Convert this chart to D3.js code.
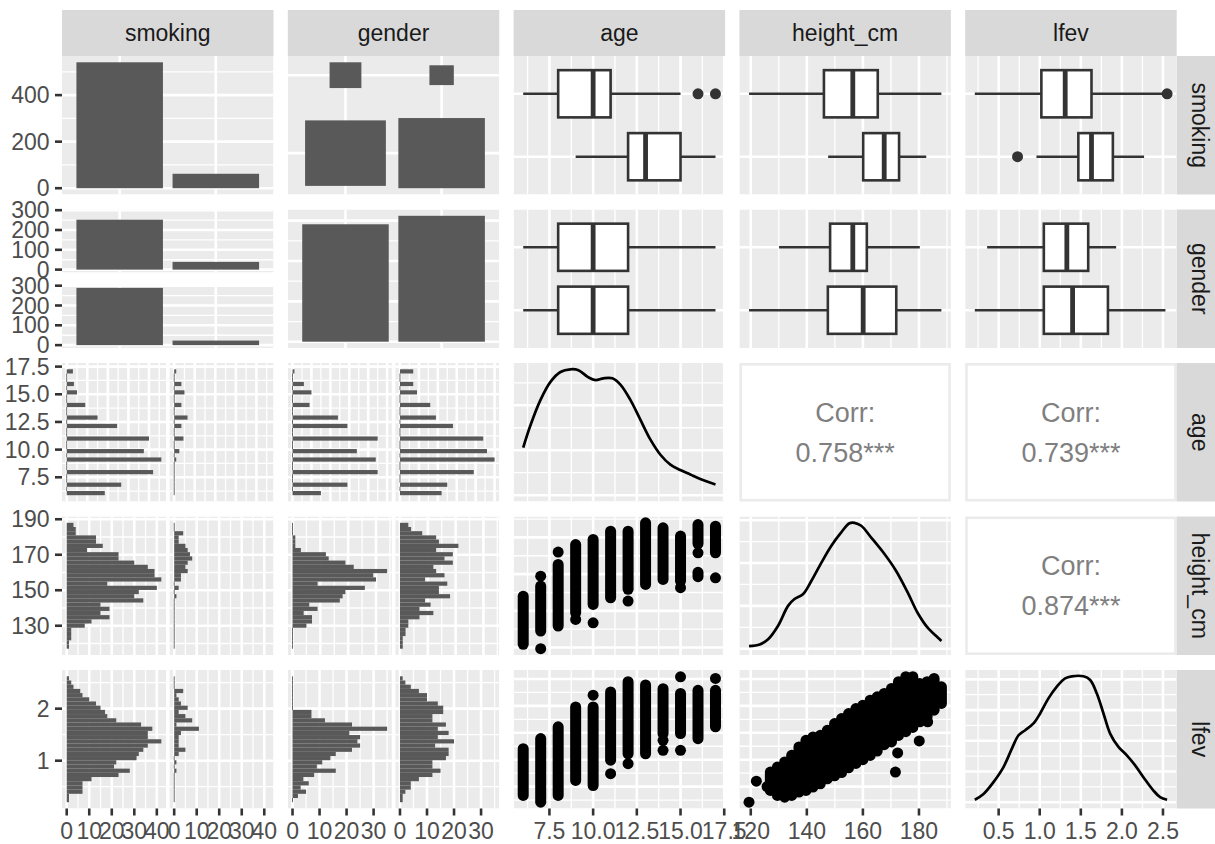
<!DOCTYPE html>
<html><head><meta charset="utf-8">
<script src="https://cdn.jsdelivr.net/npm/d3@7"></script>
<style>body{margin:0;background:#fff}svg{display:block}</style>
</head><body>
<svg id="chart" width="1215" height="844"></svg>
<script>
// ---------------- data ----------------
const variables = ["smoking", "gender", "age", "height_cm", "lfev"];
const smokingLevels = ["no", "yes"];
const genderLevels = ["f", "m"];
const smokingCountsF = [252, 39];   // female: no, yes
const smokingCountsM = [289, 23];   // male: no, yes

const ages = [6, 7, 8, 9, 10, 11, 12, 13, 14, 15, 16, 17];
const ageCountNo  = [37, 53, 84, 92, 75, 80, 49, 30, 18, 10, 7, 6];
const ageCountYes = [0, 0, 0, 2, 5, 9, 7, 13, 7, 10, 7, 2];
const ageCountF   = [15, 29, 45, 44, 34, 45, 29, 24, 9, 10, 6, 1];
const ageCountM   = [22, 25, 39, 50, 46, 44, 28, 19, 16, 9, 7, 7];

const ageRange = [6, 17];
const heightRange = [119.38, 187.96];
const lfevRange = [0.21, 2.55];

// histogram counts (30 bins, lowest bin first)
const heightBinNo  = [1,1,2,2,2,8,11,19,15,19,15,34,30,32,40,18,42,39,39,36,30,23,23,9,16,13,13,4,4,3];
const heightBinYes = [0,0,0,0,0,0,0,0,0,0,0,0,1,0,2,0,3,3,6,5,6,8,7,6,5,2,2,4,0,0];
const heightBinF   = [0,0,0,0,0,5,7,7,4,9,6,17,18,19,26,9,30,29,34,22,19,13,12,3,1,1,1,0,0,0];
const heightBinM   = [1,1,1,2,2,3,3,7,12,7,11,9,18,14,14,17,9,16,13,12,19,16,19,13,21,14,13,8,4,3];
const lfevBinNo    = [1,1,7,7,7,11,23,28,21,22,31,32,34,36,42,36,36,38,33,22,18,17,15,13,10,7,6,3,2,1];
const lfevBinYes   = [0,0,0,0,0,0,0,1,0,1,0,2,5,2,2,2,3,11,1,8,5,2,6,3,2,1,4,0,0,0];
const lfevBinF     = [0,2,5,3,6,4,8,16,9,11,14,16,22,25,24,25,21,35,22,12,7,7,0,0,0,0,0,0,0,0];
const lfevBinM     = [1,1,2,4,4,7,12,15,12,12,17,18,18,13,20,14,18,14,17,12,12,16,16,14,10,10,7,4,2,1];

// boxplot five-number summaries [lower whisker, Q1, median, Q3, upper whisker] and outliers
const ageBoxNo = [6, 8, 10, 11, 15],            ageOutNo = [16, 17];
const ageBoxYes = [9, 12, 13, 15, 17],          ageOutYes = [];
const heightBoxNo = [119.4, 146.1, 156.4, 165.3, 188.0], heightOutNo = [];
const heightBoxYes = [147.6, 160.1, 167.6, 172.9, 182.6], heightOutYes = [];
const lfevBoxNo = [0.21, 1.02, 1.31, 1.63, 2.50], lfevOutNo = [2.55];
const lfevBoxYes = [0.96, 1.47, 1.63, 1.89, 2.27], lfevOutYes = [0.73];
const ageBoxF = [6, 8, 10, 12, 17], ageBoxM = [6, 8, 10, 12, 17];
const heightBoxF = [130.1, 148.3, 156.4, 161.4, 180.3], heightBoxM = [119.4, 147.5, 160.1, 171.9, 188.0];
const lfevBoxF = [0.36, 1.05, 1.33, 1.59, 1.93], lfevBoxM = [0.21, 1.05, 1.40, 1.83, 2.53];

// densities
const ageDensX = [6.0,6.42,6.99,7.56,8.13,8.70,9.16,9.73,10.13,10.59,11.10,11.56,12.13,12.70,13.27,13.85,14.42,14.99,15.56,16.13,17.0];
const ageDensY = [0.053,0.078,0.106,0.126,0.137,0.140,0.139,0.131,0.128,0.130,0.130,0.123,0.106,0.084,0.062,0.045,0.034,0.028,0.023,0.018,0.012];
const heightDensX = [119.4,123.2,126.2,129.7,133.3,135.6,138.6,141.6,145.2,148.7,152.2,155.2,157.0,159.4,162.9,167.7,171.8,176.0,179.5,183.1,186.7,188.0];
const heightDensY = [0.0006,0.0010,0.0022,0.0053,0.0100,0.0116,0.0127,0.0158,0.0201,0.0240,0.0271,0.0293,0.0294,0.0287,0.0260,0.0221,0.0182,0.0131,0.0084,0.0049,0.0026,0.0018];
const lfevDensX = [0.21,0.316,0.437,0.559,0.661,0.742,0.823,0.924,1.005,1.106,1.208,1.309,1.391,1.532,1.614,1.695,1.776,1.857,1.958,2.06,2.161,2.262,2.384,2.465,2.55];
const lfevDensY = [0.016,0.054,0.131,0.229,0.349,0.436,0.469,0.513,0.578,0.676,0.753,0.807,0.82,0.82,0.796,0.708,0.578,0.447,0.360,0.305,0.240,0.163,0.076,0.033,0.016];

// scatter: runs of overlapping points [x, yLow, yHigh] and isolated points [x, y]
const ageHeightRuns = [[6,121.8,148.0],[7,129.0,153.5],[8,131.7,165.3],[9,138.9,176.1],[10,143.5,178.9],[11,147.1,183.4],[12,151.7,183.4],[13,154.4,187.96],[14,157.1,185.2],[15,156.2,180.7],[16,176.5,187.0],[16,158.6,161.0],[17,171.6,186.1]];
const ageHeightPoints = [[7,158.9],[7,119.38],[8,172.0],[9,135.3],[10,133.5],[12,145.3],[15,152.6],[16,171.6],[17,158.0]];
const ageLfevRuns = [[6,0.335,1.205],[7,0.21,1.392],[8,0.335,1.61],[9,0.615,1.98],[10,0.52,1.98],[11,0.99,2.26],[12,1.11,2.45],[13,1.11,2.39],[14,1.485,2.32],[15,1.485,2.23],[16,1.39,2.29],[17,1.61,2.29]];
const ageLfevPoints = [[10,2.2],[11,0.74],[12,0.925],[14,1.36],[14,1.175],[15,2.54],[15,1.175],[17,2.51]];
const heightLfevRuns = [[127.0,0.429,0.770],[129.5,0.335,0.864],[132.1,0.304,0.957],[134.6,0.335,1.081],[137.2,0.398,1.237],[139.7,0.429,1.361],[142.2,0.491,1.423],[144.8,0.553,1.454],[147.3,0.646,1.547],[149.9,0.700,1.672],[152.4,0.760,1.765],[154.9,0.850,1.858],[157.5,0.930,1.951],[160.0,1.000,2.013],[162.6,1.080,2.107],[165.1,1.160,2.169],[167.6,1.280,2.231],[170.2,1.330,2.324],[172.7,1.450,2.449],[175.3,1.520,2.542],[177.8,1.600,2.542],[180.3,1.703,2.417],[182.9,1.796,2.449],[185.4,1.920,2.510],[188.0,2.045,2.355]];
const heightLfevPoints = [[119.38,0.21],[122.0,0.60],[125.8,0.50],[171.6,0.77],[172.4,1.125],[180.1,1.349],[183.1,1.703]];

// correlations
const corrAgeHeight = 0.758, corrAgeLfev = 0.739, corrHeightLfev = 0.874;

// tick labels
const smokingCountTicks = [0, 200, 400];
const genderFacetCountTicks = [0, 100, 200, 300];
const genderCountTicks = [0, 100, 200, 300];
const ageTicks = [7.5, 10, 12.5, 15, 17.5];
const heightTicksRow = [130, 150, 170, 190];
const heightTicksCol = [120, 140, 160, 180];
const lfevTicksRow = [1, 2];
const lfevTicksCol = [0.5, 1.0, 1.5, 2.0, 2.5];
const ageDensTicks = [0, 0.05, 0.10];
const heightDensTicks = [0, 0.01, 0.02, 0.03];
const lfevDensTicks = [0, 0.2, 0.4, 0.6, 0.8];

// ---------------- layout / style ----------------
const FONT = "'Liberation Sans', Arial, Helvetica, sans-serif";
const FS = 23;
const L = 62, T = 56, PW = 211.5, PH = 138.5, SX = 225.8, SY = 153.5;
const STRIP_TOP = 10, STRIP_W = 46;
const BG = "#EBEBEB", BAR = "#595959", DARK = "#333333";
const LWMAJ = 2.6, LWMIN = 1.3, LWBOX = 2.6, PR = 5.5;
const HGAP = 3.4, VGAP = 12.5;
const px = j => L + j * SX, py = i => T + i * SY;

const svg = d3.select("#chart");
const defs = svg.append("defs");
const gPanels = svg.append("g");
const gAxes = svg.append("g");
let cid = 0;

function expand(d, m = 0.05) { const r = d[1] - d[0]; return [d[0] - m * r, d[1] + m * r]; }
function minorsOf(maj, dom) {
  if (maj.length < 2) return [];
  const st = maj[1] - maj[0];
  const b = maj.slice();
  if (dom[0] < b[0]) b.unshift(b[0] - st);
  if (dom[1] > b[b.length - 1]) b.push(b[b.length - 1] + st);
  const out = [];
  for (let i = 0; i < b.length - 1; i++) out.push((b[i] + b[i + 1]) / 2);
  return out.filter(v => v >= dom[0] && v <= dom[1]);
}
function inDom(arr, dom) { return arr.filter(v => v >= dom[0] - 1e-9 && v <= dom[1] + 1e-9); }

function makePanel(x, y, w, h, fill) {
  const id = "clip" + (cid++);
  defs.append("clipPath").attr("id", id).append("rect").attr("x", x).attr("y", y).attr("width", w).attr("height", h);
  const g = gPanels.append("g").attr("clip-path", `url(#${id})`);
  g.append("rect").attr("x", x).attr("y", y).attr("width", w).attr("height", h).attr("fill", fill || BG);
  return g;
}
function drawGrid(g, box, xs, ys, xMaj, yMaj, xMinor, yMinor) {
  const ln = (x1, y1, x2, y2, lw) => g.append("line").attr("x1", x1).attr("y1", y1).attr("x2", x2).attr("y2", y2)
    .attr("stroke", "#FFFFFF").attr("stroke-width", lw);
  (yMinor || []).forEach(v => ln(box.x, ys(v), box.x + box.w, ys(v), LWMIN));
  (xMinor || []).forEach(v => ln(xs(v), box.y, xs(v), box.y + box.h, LWMIN));
  (yMaj || []).forEach(v => ln(box.x, ys(v), box.x + box.w, ys(v), LWMAJ));
  (xMaj || []).forEach(v => ln(xs(v), box.y, xs(v), box.y + box.h, LWMAJ));
}
function contGrid(g, box, xs, ys, xMaj, yMaj, opts = {}) {
  const xd = xs.domain(), yd = ys.domain();
  const xm = xMaj ? inDom(xMaj, xd) : null, ym = yMaj ? inDom(yMaj, yd) : null;
  drawGrid(g, box, xs, ys, xm, ym,
    opts.noXMinor || !xMaj ? [] : minorsOf(xMaj, xd),
    opts.noYMinor || !yMaj ? [] : minorsOf(yMaj, yd));
}
function discrete(n, range) { return d3.scaleLinear().domain([0.4, n + 0.6]).range(range); }

function histBreaks(range, bins = 30) {
  const w = (range[1] - range[0]) / (bins - 1);
  const boundary = w / 2;
  const shift = Math.floor((range[0] - boundary) / w);
  const origin = boundary + shift * w;
  const maxX = range[1] + (1 - 1e-8) * w;
  const n = Math.floor((maxX - origin) / w + 1e-9);
  return d3.range(n + 1).map(k => origin + k * w);
}
function binValues(values, counts, breaks) {
  const nb = breaks.length - 1, w = breaks[1] - breaks[0];
  const out = new Array(nb).fill(0);
  values.forEach((v, i) => { const k = Math.min(nb - 1, Math.max(0, Math.floor((v - breaks[0]) / w))); out[k] += counts[i]; });
  return out;
}

const axisInfo = { left: [], bottom: [] };

// histogram facet panel (horizontal bars, facets side by side)
function histPanel(col, row, breaks, facetCounts, yMaj) {
  const x0 = px(col), y0 = py(row);
  const fw = (PW - HGAP) / 2;
  const maxC = d3.max(facetCounts, c => d3.max(c));
  const ys = d3.scaleLinear().domain(expand([breaks[0], breaks[breaks.length - 1]])).range([y0 + PH, y0]);
  const facets = [];
  facetCounts.forEach((counts, fi) => {
    const fx = x0 + fi * (fw + HGAP);
    const xs = d3.scaleLinear().domain(expand([0, maxC])).range([fx, fx + fw]);
    const xMaj = d3.ticks(0, maxC * 1.05, 5);
    const g = makePanel(fx, y0, fw, PH);
    contGrid(g, { x: fx, y: y0, w: fw, h: PH }, xs, ys, xMaj, yMaj);
    counts.forEach((c, k) => {
      const yt = ys(breaks[k + 1]), yb = ys(breaks[k]);
      const wpx = c === 0 ? 0.9 : xs(c) - xs(0);
      g.append("rect").attr("x", xs(0) - (c === 0 ? 0.45 : 0)).attr("y", yt).attr("width", wpx).attr("height", yb - yt).attr("fill", BAR);
    });
    facets.push({ xs, ticks: inDom(xMaj, xs.domain()) });
  });
  return { ys, facets };
}

function boxPanel(col, row, varRange, groups, xMaj) {
  const x0 = px(col), y0 = py(row);
  const xs = d3.scaleLinear().domain(expand(varRange)).range([x0, x0 + PW]);
  const ys = discrete(2, [y0 + PH, y0]);
  const g = makePanel(x0, y0, PW, PH);
  contGrid(g, { x: x0, y: y0, w: PW, h: PH }, xs, ys, xMaj, null);
  drawGrid(g, { x: x0, y: y0, w: PW, h: PH }, xs, ys, [], [1, 2], [], []);
  groups.forEach(gr => {
    const f = gr.five, yc = ys(gr.pos), yt = ys(gr.pos + 0.375), yb = ys(gr.pos - 0.375);
    const seg = (a, b) => g.append("line").attr("x1", xs(a)).attr("x2", xs(b)).attr("y1", yc).attr("y2", yc)
      .attr("stroke", DARK).attr("stroke-width", LWBOX);
    seg(f[0], f[1]); seg(f[3], f[4]);
    g.append("rect").attr("x", xs(f[1])).attr("y", yt).attr("width", xs(f[3]) - xs(f[1])).attr("height", yb - yt)
      .attr("fill", "#FFFFFF").attr("stroke", DARK).attr("stroke-width", LWBOX);
    g.append("line").attr("x1", xs(f[2])).attr("x2", xs(f[2])).attr("y1", yt).attr("y2", yb)
      .attr("stroke", DARK).attr("stroke-width", 4.8);
    gr.out.forEach(o => g.append("circle").attr("cx", xs(o)).attr("cy", yc).attr("r", PR).attr("fill", DARK));
  });
  return xs;
}

function densityPanel(col, row, varRange, dx, dy, xMaj, yMaj) {
  const x0 = px(col), y0 = py(row);
  const xs = d3.scaleLinear().domain(expand(varRange)).range([x0, x0 + PW]);
  const ys = d3.scaleLinear().domain(expand([0, d3.max(dy)])).range([y0 + PH, y0]);
  const g = makePanel(x0, y0, PW, PH);
  contGrid(g, { x: x0, y: y0, w: PW, h: PH }, xs, ys, xMaj, yMaj);
  const line = d3.line().x((d, i) => xs(dx[i])).y(d => ys(d)).curve(d3.curveCatmullRom.alpha(0.5));
  g.append("path").attr("d", line(dy)).attr("fill", "none").attr("stroke", "#000").attr("stroke-width", 2.7);
  return xs;
}

function scatterPanel(col, row, xRange, yRange, runs, pts, xMaj, yMaj) {
  const x0 = px(col), y0 = py(row);
  const xs = d3.scaleLinear().domain(expand(xRange)).range([x0, x0 + PW]);
  const ys = d3.scaleLinear().domain(expand(yRange)).range([y0 + PH, y0]);
  const g = makePanel(x0, y0, PW, PH);
  contGrid(g, { x: x0, y: y0, w: PW, h: PH }, xs, ys, xMaj, yMaj);
  runs.forEach(r => g.append("line").attr("x1", xs(r[0])).attr("x2", xs(r[0])).attr("y1", ys(r[1])).attr("y2", ys(r[2]))
    .attr("stroke", "#000").attr("stroke-width", PR * 2).attr("stroke-linecap", "round"));
  pts.forEach(p => g.append("circle").attr("cx", xs(p[0])).attr("cy", ys(p[1])).attr("r", PR).attr("fill", "#000"));
  return xs;
}

function corrPanel(col, row, r) {
  const x0 = px(col), y0 = py(row);
  const g = gPanels.append("g");
  g.append("rect").attr("x", x0 + 1.3).attr("y", y0 + 1.3).attr("width", PW - 2.6).attr("height", PH - 2.6)
    .attr("fill", "#FFFFFF").attr("stroke", BG).attr("stroke-width", 2.6);
  const cx = x0 + PW / 2, cy = y0 + PH / 2;
  const t = (s, y) => g.append("text").attr("x", cx).attr("y", y).attr("dy", "0.35em").attr("text-anchor", "middle")
    .attr("font-family", FONT).attr("font-size", 27).attr("fill", "#7F7F7F").text(s);
  t("Corr:", cy - 20);
  t(d3.format(".3f")(r) + "***", cy + 20);
}

// ---------------- panels ----------------
const smokingTotals = [smokingCountsF[0] + smokingCountsM[0], smokingCountsF[1] + smokingCountsM[1]];
const genderTotals = [d3.sum(smokingCountsF), d3.sum(smokingCountsM)];

// (0,0) smoking bars
{
  const x0 = px(0), y0 = py(0);
  const xs = discrete(2, [x0, x0 + PW]);
  const ys = d3.scaleLinear().domain(expand([0, d3.max(smokingTotals)])).range([y0 + PH, y0]);
  const g = makePanel(x0, y0, PW, PH);
  drawGrid(g, { x: x0, y: y0, w: PW, h: PH }, xs, ys, [1, 2], inDom(smokingCountTicks, ys.domain()), [], minorsOf(smokingCountTicks, ys.domain()));
  smokingTotals.forEach((c, i) => g.append("rect").attr("x", xs(i + 1 - 0.45)).attr("width", xs(1.9) - xs(1)).attr("y", ys(c)).attr("height", ys(0) - ys(c)).attr("fill", BAR));
  axisInfo.left.push({ row: 0, ys, ticks: smokingCountTicks, fmt: d3.format("d") });
}
// (0,1) count rectangles gender x smoking
{
  const x0 = px(1), y0 = py(0);
  const xs = discrete(2, [x0, x0 + PW]);
  const maxC = d3.max([...smokingCountsF, ...smokingCountsM]);
  const cells = [];
  [smokingCountsF, smokingCountsM].forEach((arr, gi) => arr.forEach((c, si) => cells.push({ gx: gi + 1, sy: si + 1, s: 0.9 * Math.sqrt(c / maxC) })));
  const ext = [d3.min(cells, c => c.sy - c.s / 2), d3.max(cells, c => c.sy + c.s / 2)];
  const ys = d3.scaleLinear().domain(expand(ext)).range([y0 + PH, y0]);
  const g = makePanel(x0, y0, PW, PH);
  drawGrid(g, { x: x0, y: y0, w: PW, h: PH }, xs, ys, [1, 2], [1, 2], [], []);
  cells.forEach(c => g.append("rect").attr("x", xs(c.gx - c.s / 2)).attr("width", xs(c.gx + c.s / 2) - xs(c.gx - c.s / 2))
    .attr("y", ys(c.sy + c.s / 2)).attr("height", ys(c.sy - c.s / 2) - ys(c.sy + c.s / 2)).attr("fill", BAR));
}
// row 0 boxplots by smoking (no on top)
boxPanel(2, 0, ageRange, [{ pos: 2, five: ageBoxNo, out: ageOutNo }, { pos: 1, five: ageBoxYes, out: ageOutYes }], ageTicks);
boxPanel(3, 0, heightRange, [{ pos: 2, five: heightBoxNo, out: heightOutNo }, { pos: 1, five: heightBoxYes, out: heightOutYes }], heightTicksCol);
boxPanel(4, 0, lfevRange, [{ pos: 2, five: lfevBoxNo, out: lfevOutNo }, { pos: 1, five: lfevBoxYes, out: lfevOutYes }], lfevTicksCol);

// (1,0) smoking bars faceted by gender (stacked)
{
  const x0 = px(0), y0 = py(1);
  const fh = (PH - VGAP) / 2;
  const maxC = d3.max([...smokingCountsF, ...smokingCountsM]);
  [smokingCountsF, smokingCountsM].forEach((arr, fi) => {
    const fy = y0 + fi * (fh + VGAP);
    const xs = discrete(2, [x0, x0 + PW]);
    const ys = d3.scaleLinear().domain(expand([0, maxC])).range([fy + fh, fy]);
    const g = makePanel(x0, fy, PW, fh);
    drawGrid(g, { x: x0, y: fy, w: PW, h: fh }, xs, ys, [1, 2], inDom(genderFacetCountTicks, ys.domain()), [], minorsOf(genderFacetCountTicks, ys.domain()));
    arr.forEach((c, i) => g.append("rect").attr("x", xs(i + 1 - 0.45)).attr("width", xs(1.9) - xs(1)).attr("y", ys(c)).attr("height", ys(0) - ys(c)).attr("fill", BAR));
    axisInfo.left.push({ row: 1, ys, ticks: genderFacetCountTicks, fmt: d3.format("d") });
  });
}
// (1,1) gender bars
{
  const x0 = px(1), y0 = py(1);
  const xs = discrete(2, [x0, x0 + PW]);
  const ys = d3.scaleLinear().domain(expand([0, d3.max(genderTotals)])).range([y0 + PH, y0]);
  const g = makePanel(x0, y0, PW, PH);
  drawGrid(g, { x: x0, y: y0, w: PW, h: PH }, xs, ys, [1, 2], inDom(genderCountTicks, ys.domain()), [], minorsOf(genderCountTicks, ys.domain()));
  genderTotals.forEach((c, i) => g.append("rect").attr("x", xs(i + 1 - 0.45)).attr("width", xs(1.9) - xs(1)).attr("y", ys(c)).attr("height", ys(0) - ys(c)).attr("fill", BAR));
}
// row 1 boxplots by gender (f on top)
boxPanel(2, 1, ageRange, [{ pos: 2, five: ageBoxF, out: [] }, { pos: 1, five: ageBoxM, out: [] }], ageTicks);
boxPanel(3, 1, heightRange, [{ pos: 2, five: heightBoxF, out: [] }, { pos: 1, five: heightBoxM, out: [] }], heightTicksCol);
boxPanel(4, 1, lfevRange, [{ pos: 2, five: lfevBoxF, out: [] }, { pos: 1, five: lfevBoxM, out: [] }], lfevTicksCol);

// row 2: age
const ageBreaks = histBreaks(ageRange);
const hAgeS = histPanel(0, 2, ageBreaks, [binValues(ages, ageCountNo, ageBreaks), binValues(ages, ageCountYes, ageBreaks)], ageTicks);
histPanel(1, 2, ageBreaks, [binValues(ages, ageCountF, ageBreaks), binValues(ages, ageCountM, ageBreaks)], ageTicks);
axisInfo.left.push({ row: 2, ys: hAgeS.ys, ticks: ageTicks, fmt: d3.format(".1f") });
densityPanel(2, 2, ageRange, ageDensX, ageDensY, ageTicks, ageDensTicks);
corrPanel(3, 2, corrAgeHeight);
corrPanel(4, 2, corrAgeLfev);

// row 3: height
const heightBreaks = histBreaks(heightRange);
const hHS = histPanel(0, 3, heightBreaks, [heightBinNo, heightBinYes], heightTicksRow);
histPanel(1, 3, heightBreaks, [heightBinF, heightBinM], heightTicksRow);
axisInfo.left.push({ row: 3, ys: hHS.ys, ticks: heightTicksRow, fmt: d3.format("d") });
scatterPanel(2, 3, ageRange, heightRange, ageHeightRuns, ageHeightPoints, ageTicks, heightTicksCol);
densityPanel(3, 3, heightRange, heightDensX, heightDensY, heightTicksCol, heightDensTicks);
corrPanel(4, 3, corrHeightLfev);

// row 4: lfev
const lfevBreaks = histBreaks(lfevRange);
const hLS = histPanel(0, 4, lfevBreaks, [lfevBinNo, lfevBinYes], lfevTicksRow);
const hLG = histPanel(1, 4, lfevBreaks, [lfevBinF, lfevBinM], lfevTicksRow);
axisInfo.left.push({ row: 4, ys: hLS.ys, ticks: lfevTicksRow, fmt: d3.format("d") });
const xsAge = scatterPanel(2, 4, ageRange, lfevRange, ageLfevRuns, ageLfevPoints, ageTicks, lfevTicksCol);
const xsHeight = scatterPanel(3, 4, heightRange, lfevRange, heightLfevRuns, heightLfevPoints, heightTicksCol, lfevTicksCol);
const xsLfev = densityPanel(4, 4, lfevRange, lfevDensX, lfevDensY, lfevTicksCol, lfevDensTicks);

hLS.facets.forEach(f => axisInfo.bottom.push({ xs: f.xs, ticks: f.ticks, fmt: d3.format("d") }));
hLG.facets.forEach(f => axisInfo.bottom.push({ xs: f.xs, ticks: f.ticks, fmt: d3.format("d") }));
axisInfo.bottom.push({ xs: xsAge, ticks: ageTicks, fmt: d3.format(".1f") });
axisInfo.bottom.push({ xs: xsHeight, ticks: heightTicksCol, fmt: d3.format("d") });
axisInfo.bottom.push({ xs: xsLfev, ticks: lfevTicksCol, fmt: d3.format(".1f") });

// ---------------- axes ----------------
const TICK = 7;
axisInfo.left.forEach(a => {
  inDom(a.ticks, a.ys.domain()).forEach(v => {
    const y = a.ys(v);
    gAxes.append("line").attr("x1", L - TICK).attr("x2", L).attr("y1", y).attr("y2", y).attr("stroke", DARK).attr("stroke-width", LWBOX);
    gAxes.append("text").attr("x", L - TICK - 5.5).attr("y", y).attr("dy", "0.35em").attr("text-anchor", "end")
      .attr("font-family", FONT).attr("font-size", FS).attr("fill", "#4D4D4D").text(a.fmt(v));
  });
});
const bottomY = py(4) + PH;
axisInfo.bottom.forEach(a => {
  inDom(a.ticks, a.xs.domain()).forEach(v => {
    const x = a.xs(v);
    gAxes.append("line").attr("x1", x).attr("x2", x).attr("y1", bottomY).attr("y2", bottomY + TICK).attr("stroke", DARK).attr("stroke-width", LWBOX);
    gAxes.append("text").attr("x", x).attr("y", bottomY + TICK + 5.5).attr("dy", "0.8em").attr("text-anchor", "middle")
      .attr("font-family", FONT).attr("font-size", FS).attr("fill", "#4D4D4D").text(a.fmt(v));
  });
});

// ---------------- strips ----------------
variables.forEach((v, j) => {
  gAxes.append("rect").attr("x", px(j)).attr("y", STRIP_TOP).attr("width", PW).attr("height", T - STRIP_TOP).attr("fill", "#D9D9D9");
  gAxes.append("text").attr("x", px(j) + PW / 2).attr("y", (STRIP_TOP + T) / 2).attr("dy", "0.35em").attr("text-anchor", "middle")
    .attr("font-family", FONT).attr("font-size", FS).attr("fill", "#1A1A1A").text(v);
});
variables.forEach((v, i) => {
  const sx = px(4) + PW;
  gAxes.append("rect").attr("x", sx).attr("y", py(i)).attr("width", STRIP_W).attr("height", PH).attr("fill", "#D9D9D9");
  gAxes.append("text").attr("transform", `translate(${sx + STRIP_W / 2},${py(i) + PH / 2}) rotate(90)`).attr("dy", "0.35em")
    .attr("text-anchor", "middle").attr("font-family", FONT).attr("font-size", FS).attr("fill", "#1A1A1A").text(v);
});
</script>
</body></html>
